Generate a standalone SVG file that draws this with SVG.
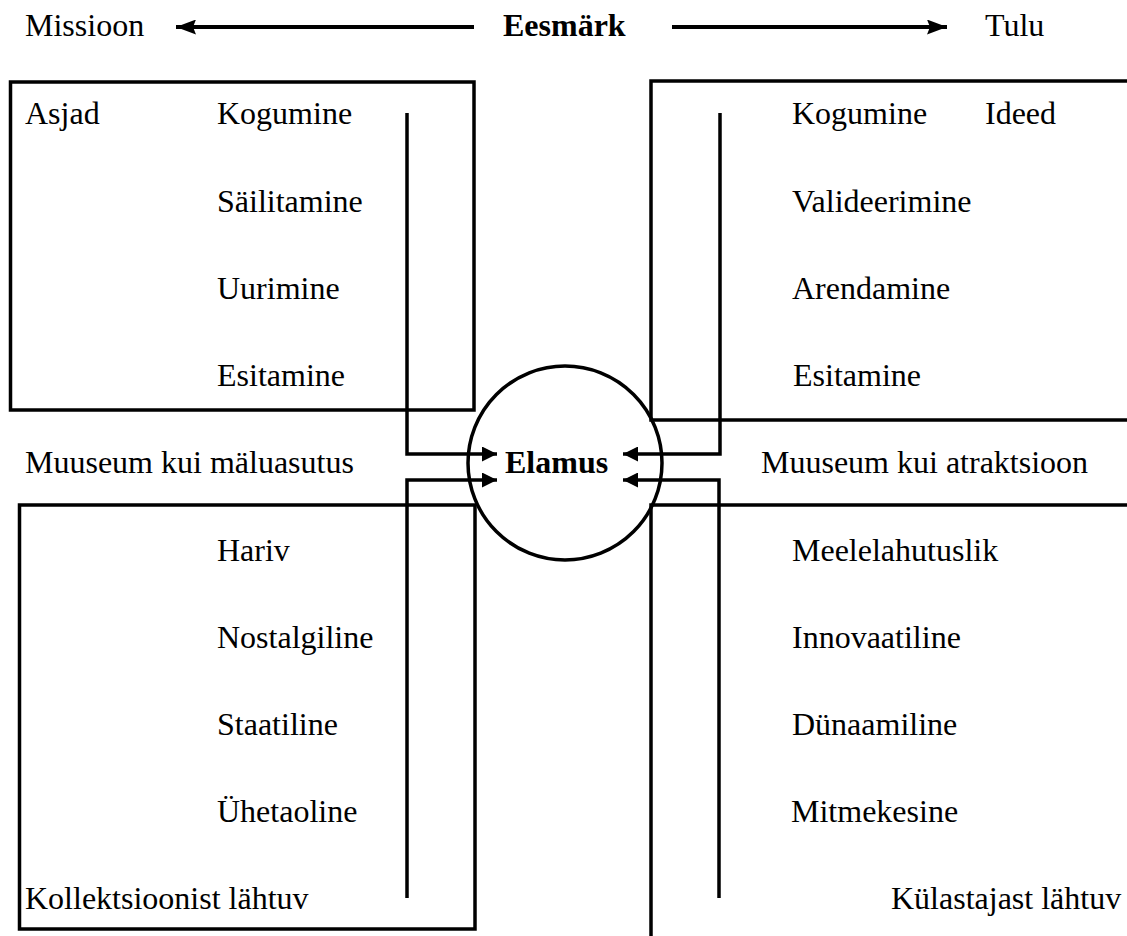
<svg xmlns="http://www.w3.org/2000/svg" width="1127" height="936" viewBox="0 0 1127 936">
  <defs>
    <marker id="arrow" viewBox="0 0 15 15" markerWidth="15" markerHeight="15" refX="15" refY="7.5" orient="auto" markerUnits="userSpaceOnUse">
      <path d="M0,0 L15,7.5 L0,15 z" fill="#000"/>
    </marker>
    <marker id="arrow-lg" viewBox="0 0 20 15" markerWidth="20" markerHeight="15" refX="20" refY="7.5" orient="auto" markerUnits="userSpaceOnUse">
      <path d="M0,0 L20,7.5 L0,15 L3,7.5 z" fill="#000"/>
    </marker>
    <style>
      text { font-family: "Liberation Serif", "Times New Roman", serif; font-size: 32px; fill: #000; }
      .b { font-weight: bold; }
      .box { fill: none; stroke: #000; stroke-width: 3.5; }
      .conn { fill: none; stroke: #000; stroke-width: 3.5; marker-end: url(#arrow); }
      .head { fill: none; stroke: #000; stroke-width: 4; marker-end: url(#arrow-lg); }
    </style>
  </defs>
  <rect width="1127" height="936" fill="#fff"/>

  <g id="header">
    <text x="25" y="36">Missioon</text>
    <text class="b" x="503" y="36">Eesmärk</text>
    <text x="985" y="36">Tulu</text>
  </g>

  <g id="box-top-left">
    <rect class="box" x="10.5" y="82" width="463.5" height="328"/>
    <text x="25" y="124">Asjad</text>
    <text x="217" y="124">Kogumine</text>
    <text x="217" y="212">Säilitamine</text>
    <text x="217" y="299">Uurimine</text>
    <text x="217" y="386">Esitamine</text>
  </g>

  <g id="box-top-right">
    <rect class="box" x="651" y="81" width="490" height="339"/>
    <text x="792" y="124">Kogumine</text>
    <text x="985" y="124">Ideed</text>
    <text x="792" y="212">Valideerimine</text>
    <text x="792" y="299">Arendamine</text>
    <text x="793" y="386">Esitamine</text>
  </g>

  <g id="box-bottom-left">
    <rect class="box" x="19.5" y="505" width="455.5" height="424"/>
    <text x="217" y="561">Hariv</text>
    <text x="217" y="648">Nostalgiline</text>
    <text x="217" y="735">Staatiline</text>
    <text x="217" y="822">Ühetaoline</text>
    <text x="25" y="909">Kollektsioonist lähtuv</text>
  </g>

  <g id="box-bottom-right">
    <rect class="box" x="651" y="505" width="490" height="450"/>
    <text x="792" y="561">Meelelahutuslik</text>
    <text x="792" y="648">Innovaatiline</text>
    <text x="792" y="735">Dünaamiline</text>
    <text x="791" y="822">Mitmekesine</text>
    <text x="891" y="909">Külastajast lähtuv</text>
  </g>

  <g id="label-left">
    <text x="25" y="473">Muuseum kui mäluasutus</text>
  </g>
  <g id="label-right">
    <text x="761" y="473">Muuseum kui atraktsioon</text>
  </g>

  <g id="elamus">
    <circle cx="565" cy="463" r="97" fill="none" stroke="#000" stroke-width="3.5"/>
    <text class="b" x="505" y="473">Elamus</text>
  </g>

  <g id="connectors">
    <line class="head" x1="474" y1="27" x2="176" y2="27"/>
    <line class="head" x1="672" y1="27" x2="947" y2="27"/>
    <polyline class="conn" points="407,113 407,454 497,454"/>
    <polyline class="conn" points="407,898 407,480 497,480"/>
    <polyline class="conn" points="720,113 720,454 623,454"/>
    <polyline class="conn" points="719,898 719,480 623,480"/>
  </g>
</svg>
